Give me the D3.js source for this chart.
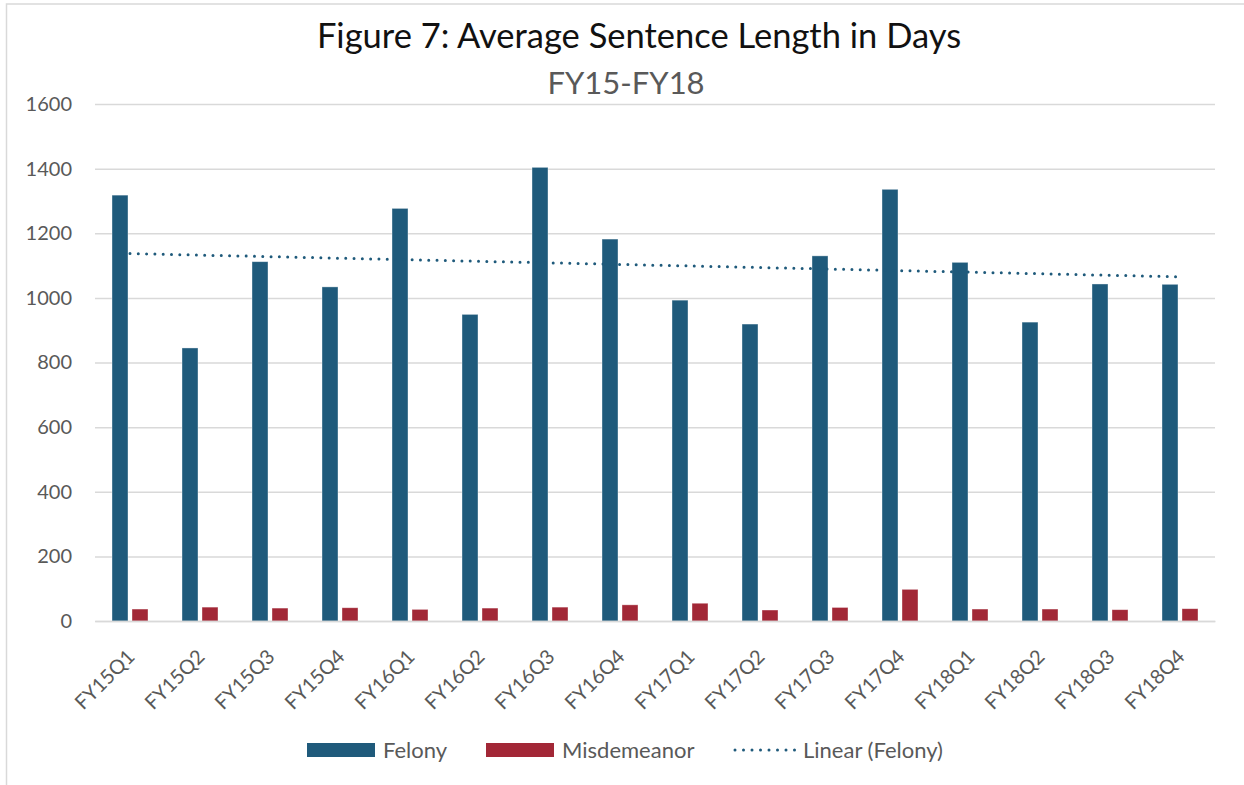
<!DOCTYPE html>
<html>
<head>
<meta charset="utf-8">
<script src="https://cdn.jsdelivr.net/npm/d3@7"></script>
<style>
  body { margin: 0; background: #fff; }
  svg { font-family: Lato, 'Open Sans', sans-serif; }
</style>
</head>
<body>
<div id="chart"></div>
<script>
// data
var quarters = ["FY15Q1", "FY15Q2", "FY15Q3", "FY15Q4", "FY16Q1", "FY16Q2", "FY16Q3", "FY16Q4",
                "FY17Q1", "FY17Q2", "FY17Q3", "FY17Q4", "FY18Q1", "FY18Q2", "FY18Q3", "FY18Q4"];
var felony = [1318, 845, 1112, 1034, 1277, 949, 1404, 1182, 993, 919, 1130, 1336, 1110, 925, 1043, 1042];
var misdemeanor = [37, 43, 40, 41, 36, 40, 43, 50, 55, 34, 42, 98, 37, 37, 35, 38];
var yTicks = [0, 200, 400, 600, 800, 1000, 1200, 1400, 1600];
var seriesNames = ["Felony", "Misdemeanor"];

var W = 1244, H = 785;
var margin = { top: 104, left: 95, bottom: 164, right: 28 };
var width = 1215 - margin.left, height = 621 - margin.top;

var colors = { Felony: "#1F5A7B", Misdemeanor: "#A22736" };

var svg = d3.select("#chart")
    .append("svg")
    .attr("width", W)
    .attr("height", H);

// chart border
svg.append("rect")
    .attr("x", 6.5).attr("y", 4)
    .attr("width", W).attr("height", H)
    .style("fill", "none")
    .style("stroke", "#D9D9D9")
    .style("stroke-width", "1.5px");

// titles
svg.append("text")
    .attr("x", 639).attr("y", 48)
    .style("text-anchor", "middle")
    .style("font-size", "34.5px")
    .style("fill", "#111")
    .text("Figure 7: Average Sentence Length in Days");

svg.append("text")
    .attr("x", 626).attr("y", 94)
    .style("text-anchor", "middle")
    .style("font-size", "31px")
    .style("fill", "#595959")
    .text("FY15-FY18");

var g = svg.append("g")
    .attr("transform", "translate(" + margin.left + "," + margin.top + ")");

var x0 = d3.scaleBand().domain(quarters).range([0, width]).padding(0);
var x1 = d3.scaleBand().domain(seriesNames)
    .range([x0.bandwidth() / 2 - 18, x0.bandwidth() / 2 + 18])
    .paddingInner(0.2);
var y = d3.scaleLinear().domain([0, 1600]).range([height, 0]);

// gridlines
g.append("g")
    .attr("class", "grid")
    .call(d3.axisLeft(y).tickValues(yTicks).tickSize(-width).tickFormat(""))
    .call(s => s.select(".domain").remove())
    .call(s => s.selectAll("line").style("stroke", "#D9D9D9").style("stroke-width", "1.5px"));

// y axis labels
g.append("g")
    .attr("class", "y-axis")
    .call(d3.axisLeft(y).tickValues(yTicks).tickFormat(d3.format("d")).tickSize(0).tickPadding(23))
    .call(s => s.select(".domain").remove())
    .call(s => s.selectAll("text")
        .style("font-family", "Lato, sans-serif")
        .style("font-size", "20px")
        .style("fill", "#595959"));

// bars
var rows = quarters.map(function (q, i) {
    return { q: q, Felony: felony[i], Misdemeanor: misdemeanor[i] };
});

var groups = g.selectAll(".grp")
    .data(rows)
    .enter().append("g")
    .attr("transform", function (d) { return "translate(" + x0(d.q) + ",0)"; });

groups.selectAll("rect")
    .data(function (d) { return seriesNames.map(function (k) { return { key: k, value: d[k] }; }); })
    .enter().append("rect")
    .attr("x", function (d) { return x1(d.key); })
    .attr("width", x1.bandwidth())
    .attr("y", function (d) { return y(d.value); })
    .attr("height", function (d) { return height - y(d.value); })
    .style("fill", function (d) { return colors[d.key]; })
    .style("stroke", "#fff")
    .style("stroke-opacity", 0.5)
    .style("stroke-width", "0.75px");

// x axis baseline + labels
g.append("g")
    .attr("class", "x-axis")
    .attr("transform", "translate(0," + height + ")")
    .call(d3.axisBottom(x0).tickSize(0).tickPadding(0))
    .call(s => s.select(".domain").style("stroke", "#D9D9D9").style("stroke-width", "1.5px"))
    .call(s => s.selectAll("text")
        .style("font-family", "Lato, sans-serif")
        .style("font-size", "20px")
        .style("fill", "#595959")
        .style("text-anchor", "end")
        .attr("dy", "0")
        .attr("transform", "translate(6,37) rotate(-45)"));

// linear trendline on felony (least squares)
var n = felony.length;
var mx = d3.mean(felony, function (d, i) { return i; });
var my = d3.mean(felony);
var sxy = d3.sum(felony, function (d, i) { return (i - mx) * (d - my); });
var sxx = d3.sum(felony, function (d, i) { return (i - mx) * (i - mx); });
var slope = sxy / sxx, icpt = my - slope * mx;
var trendPts = [0, n - 1].map(function (i) { return [i, icpt + slope * i]; });

var trendLine = d3.line()
    .x(function (d) { return x0(quarters[d[0]]) + x0.bandwidth() / 2; })
    .y(function (d) { return y(d[1]); });

g.append("path")
    .datum(trendPts)
    .attr("d", trendLine)
    .style("fill", "none")
    .style("stroke", colors.Felony)
    .style("stroke-width", "3px")
    .style("stroke-linecap", "round")
    .style("stroke-dasharray", "0 8.3");

// legend
var legend = svg.append("g").attr("class", "legend");
var legendItems = [
    { name: "Felony", x: 307, type: "bar" },
    { name: "Misdemeanor", x: 486, type: "bar" },
    { name: "Linear (Felony)", x: 735, type: "line" }
];
legendItems.forEach(function (it) {
    if (it.type === "bar") {
        legend.append("rect")
            .attr("x", it.x).attr("y", 743)
            .attr("width", 68).attr("height", 14)
            .style("fill", colors[it.name]);
    } else {
        legend.append("line")
            .attr("x1", it.x).attr("x2", it.x + 61)
            .attr("y1", 750).attr("y2", 750)
            .style("stroke", colors.Felony)
            .style("stroke-width", "3px")
            .style("stroke-linecap", "round")
            .style("stroke-dasharray", "0 8.5");
    }
    legend.append("text")
        .attr("x", it.x + (it.type === "bar" ? 76 : 68))
        .attr("y", 758)
        .style("font-size", "22px")
        .style("fill", "#595959")
        .text(it.name);
});
</script>
</body>
</html>
